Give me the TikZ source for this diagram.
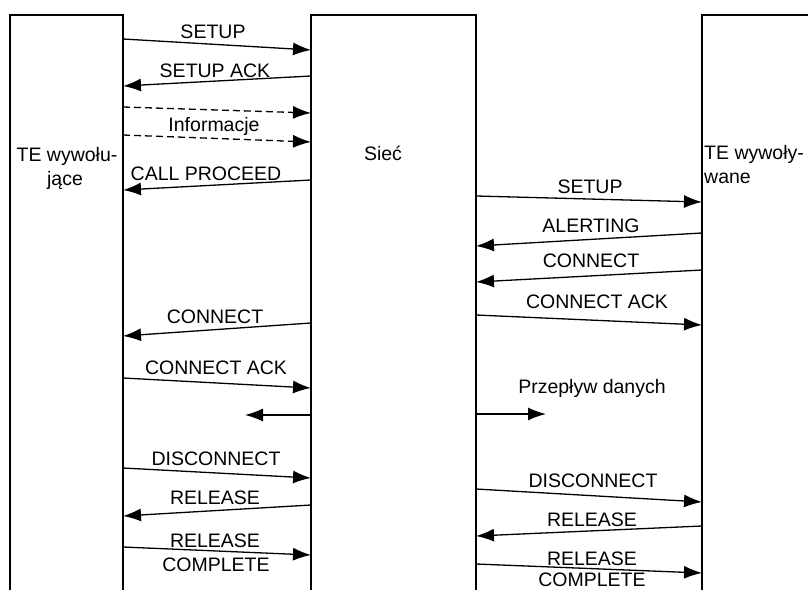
\documentclass[tikz,border=0pt]{standalone}
\usepackage{fontspec}
\setmainfont{Liberation Sans}
\usetikzlibrary{arrows.meta}
\begin{document}
\begin{tikzpicture}[x=1pt,y=-1pt,
  box/.style={line width=1.3pt},
  msg/.style={line width=1.3pt,-{Latex[length=18pt,width=13pt]}},
  info/.style={msg,dash pattern=on 7pt off 4pt},
  lbl/.style={font=\fontsize{19.5}{24}\selectfont,anchor=base,inner sep=0pt},
  lblw/.style={lbl,anchor=base west}
]
\useasboundingbox (0,0) rectangle (808,589);
% lifeline boxes (open at the bottom)
\draw[box] (10,600) -- (10,15) -- (123,15) -- (123,600);
\draw[box] (311,600) -- (311,15) -- (476,15) -- (476,600);
\draw[box] (702,600) -- (702,15) -- (820,15);
% titles
\node[lbl] (te1a) at (67,161) {TE wywołu-};
\node[lbl] (te1b) at (65,185) {jące};
\node[lbl] (siec) at (383,160) {Sieć};
\node[lblw] (te2a) at (704,159) {TE wywoły-};
\node[lblw] (te2b) at (704,183) {wane};
% coordinates on box sides
\coordinate (a1) at (123,39);  \coordinate (b1) at (311,50);
\coordinate (a2) at (311,76);  \coordinate (b2) at (123,86);
\coordinate (a3) at (123,107); \coordinate (b3) at (311,113);
\coordinate (a4) at (123,135); \coordinate (b4) at (311,142);
\coordinate (a5) at (311,180); \coordinate (b5) at (123,190);
\coordinate (c1) at (476,196); \coordinate (d1) at (702,202);
\coordinate (c2) at (702,233); \coordinate (d2) at (476,246);
\coordinate (c3) at (702,270); \coordinate (d3) at (476,282);
\coordinate (c4) at (476,315); \coordinate (d4) at (702,325);
\coordinate (a6) at (311,323); \coordinate (b6) at (123,336);
\coordinate (a7) at (123,378); \coordinate (b7) at (311,388);
\coordinate (a8) at (311,415); \coordinate (b8) at (245,415);
\coordinate (c5) at (476,414); \coordinate (d5) at (546,414);
\coordinate (a9) at (123,468); \coordinate (b9) at (311,478);
\coordinate (a10) at (311,505); \coordinate (b10) at (123,516);
\coordinate (a11) at (123,547); \coordinate (b11) at (311,555);
\coordinate (c6) at (476,489); \coordinate (d6) at (702,502);
\coordinate (c7) at (702,526); \coordinate (d7) at (476,536);
\coordinate (c8) at (476,564); \coordinate (d8) at (702,573);
% messages left - network
\draw[msg] (a1) -- (b1);   \node[lbl] (l1) at (213,38) {SETUP};
\draw[msg] (a2) -- (b2);   \node[lbl] (l2) at (215,77) {SETUP ACK};
\draw[info] (a3) -- (b3);
\node[lbl] (l3) at (214,131) {Informacje};
\draw[info] (a4) -- (b4);
\draw[msg] (a5) -- (b5);   \node[lbl] (l5) at (206,180) {CALL PROCEED};
\draw[msg] (a6) -- (b6);   \node[lbl] (l6) at (215,323) {CONNECT};
\draw[msg] (a7) -- (b7);   \node[lbl] (l7) at (216,374) {CONNECT ACK};
\draw[msg] (a8) -- (b8);
\draw[msg] (a9) -- (b9);   \node[lbl] (l9) at (216,465) {DISCONNECT};
\draw[msg] (a10) -- (b10); \node[lbl] (l10) at (215,504) {RELEASE};
\draw[msg] (a11) -- (b11); \node[lbl] (l11a) at (215,547) {RELEASE};
                           \node[lbl] (l11b) at (216,571) {COMPLETE};
% messages network - right
\draw[msg] (c1) -- (d1);   \node[lbl] (r1) at (590,193) {SETUP};
\draw[msg] (c2) -- (d2);   \node[lbl] (r2) at (591,232) {ALERTING};
\draw[msg] (c3) -- (d3);   \node[lbl] (r3) at (591,267) {CONNECT};
\draw[msg] (c4) -- (d4);   \node[lbl] (r4) at (597,308) {CONNECT ACK};
\node[lbl] (r5) at (592,393) {Przepływ danych};
\draw[msg] (c5) -- (d5);
\draw[msg] (c6) -- (d6);   \node[lbl] (r6) at (593,487) {DISCONNECT};
\draw[msg] (c7) -- (d7);   \node[lbl] (r7) at (592,526) {RELEASE};
\draw[msg] (c8) -- (d8);   \node[lbl] (r8a) at (592,565) {RELEASE};
                           \node[lbl] (r8b) at (592,586) {COMPLETE};
\end{tikzpicture}
\end{document}
